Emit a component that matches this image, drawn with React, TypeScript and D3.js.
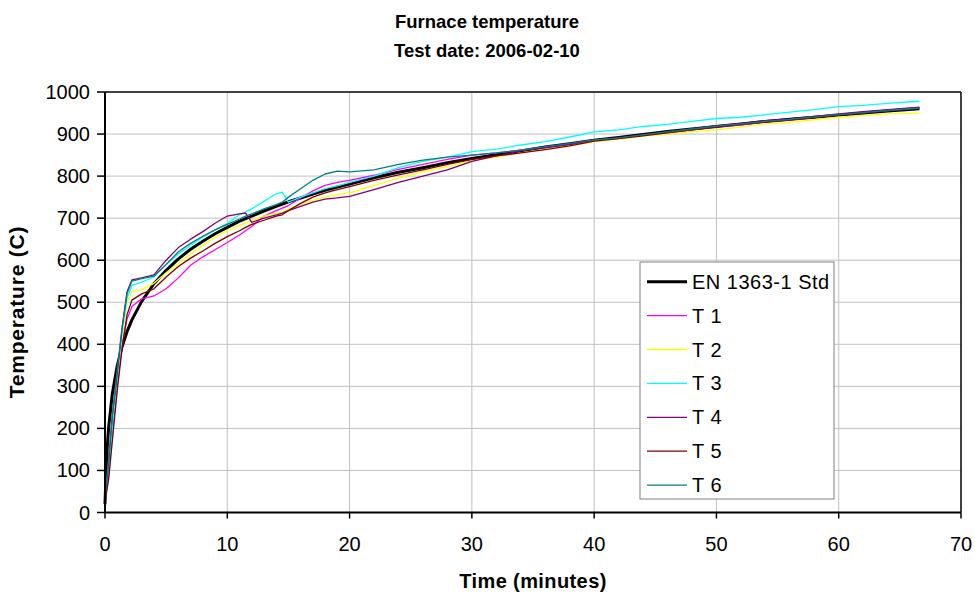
import React from "react";
import * as d3 from "d3";

const stdTimes = [0, 0.1, 0.2, 0.3, 0.6, 1, 1.4, 1.8, 2.2, 3, 4, 5, 6, 7, 8, 9, 10, 11, 12, 13, 14, 15, 16, 17, 18, 19, 20, 22, 24, 26, 28, 30, 32, 34, 36, 38, 40, 42, 44, 46, 48, 50, 52, 54, 56, 58, 60, 62, 64, 66.6];
const stdValues = [20, 108, 163, 203, 283, 349, 395, 430, 458, 502, 544, 576, 603, 626, 645, 663, 678, 693, 705, 717, 728, 739, 748, 757, 766, 774, 781, 796, 809, 820, 832, 842, 851, 860, 869, 877, 885, 892, 899, 906, 912, 918, 924, 930, 935, 940, 945, 950, 955, 960];

const times = [0, 0.3, 0.6, 1, 1.4, 1.8, 2.2, 3, 4, 5, 6, 7, 8, 9, 10, 11, 11.5, 12, 13, 14, 14.5, 15, 16, 17, 18, 19, 20, 22, 24, 26, 28, 30, 32, 34, 36, 38, 40, 42, 44, 46, 48, 50, 52, 54, 56, 58, 60, 62, 64, 66.6];

const t1 = [25, 90, 190, 300, 400, 460, 490, 508, 515, 532, 558, 588, 608, 625, 642, 660, 670, 680, 705, 718, 724, 730, 748, 765, 778, 785, 790, 802, 816, 828, 840, 850, 855, 862, 868, 876, 884, 890, 897, 903, 910, 917, 922, 929, 934, 940, 946, 951, 956, 962];
const t2 = [30, 110, 220, 320, 420, 500, 525, 530, 545, 570, 593, 615, 635, 655, 670, 683, 688, 694, 705, 712, 714, 722, 732, 742, 750, 756, 760, 778, 795, 810, 823, 836, 846, 855, 864, 872, 882, 888, 895, 900, 906, 910, 917, 924, 928, 934, 940, 944, 948, 950];
const t3 = [30, 100, 200, 320, 430, 510, 540, 548, 560, 590, 615, 635, 655, 672, 688, 708, 715, 722, 740, 758, 762, 738, 750, 760, 770, 777, 785, 800, 820, 835, 845, 858, 864, 874, 882, 893, 905, 910, 918, 923, 930, 937, 940, 946, 952, 958, 965, 968, 973, 978];
const t4 = [30, 120, 230, 330, 440, 525, 553, 558, 565, 600, 630, 650, 668, 688, 705, 710, 712, 690, 700, 708, 712, 718, 728, 738, 745, 748, 752, 768, 785, 800, 815, 835, 848, 860, 868, 876, 886, 890, 898, 905, 912, 920, 925, 932, 936, 942, 948, 953, 958, 964];
const t5 = [25, 80, 170, 290, 390, 470, 505, 520, 532, 560, 585, 605, 622, 640, 656, 670, 678, 685, 695, 705, 708, 718, 735, 750, 760, 768, 775, 790, 803, 815, 828, 840, 848, 855, 863, 872, 883, 889, 896, 903, 910, 917, 923, 929, 934, 940, 945, 950, 955, 961];
const t6 = [35, 130, 230, 340, 440, 520, 550, 556, 562, 590, 620, 640, 657, 672, 685, 698, 705, 710, 722, 732, 738, 750, 770, 790, 805, 812, 810, 815, 828, 838, 845, 850, 855, 862, 870, 878, 886, 891, 898, 905, 912, 919, 924, 930, 935, 941, 946, 951, 956, 962];

const seriesNames = ["EN 1363-1 Std", "T 1", "T 2", "T 3", "T 4", "T 5", "T 6"];
const seriesColors = ["#000000", "#FF00FF", "#FFFF00", "#00FFFF", "#800080", "#800000", "#008080"];
const xTicks = [0, 10, 20, 30, 40, 50, 60, 70];
const yTicks = [0, 100, 200, 300, 400, 500, 600, 700, 800, 900, 1000];

const W = 975, H = 601;
const L = 105, R = 961, T = 92, B = 512.5;
const FONT = "'Liberation Sans', Arial, sans-serif";

export default function App() {
  const x = d3.scaleLinear().domain([0, 70]).range([L, R]);
  const y = d3.scaleLinear().domain([0, 1000]).range([B, T]);
  const line = d3.line<[number, number]>().x(d => x(d[0])).y(d => y(d[1]));

  const stdData: [number, number][] = stdTimes.map((t, i) => [t, stdValues[i]]);
  const measured = [t1, t2, t3, t4, t5, t6].map(vals => times.map((t, i) => [t, vals[i]] as [number, number]));

  const legX = 640, legY = 262, legW = 194, legH = 237;
  const rowY = (i: number) => 281.7 + i * 33.9;

  return (
    <svg width={W} height={H} style={{ position: "absolute", left: 0, top: 0, background: "#fff" }} fontFamily={FONT}>
      <rect x={0} y={0} width={W} height={H} fill="#fff" />
      <text x={487} y={28} textAnchor="middle" fontWeight="bold" fontSize={18.5}>Furnace temperature</text>
      <text x={487} y={57} textAnchor="middle" fontWeight="bold" fontSize={18.5}>Test date: 2006-02-10</text>

      {xTicks.slice(1, -1).map(t => (
        <line key={"gx" + t} x1={x(t)} x2={x(t)} y1={T} y2={B} stroke="#c0c0c0" strokeWidth={1} />
      ))}
      {yTicks.slice(1, -1).map(v => (
        <line key={"gy" + v} x1={L} x2={R} y1={y(v)} y2={y(v)} stroke="#c0c0c0" strokeWidth={1} />
      ))}
      <line x1={L} x2={R} y1={T} y2={T} stroke="#000" strokeWidth={1.5} />
      <line x1={R} x2={R} y1={T} y2={B} stroke="#000" strokeWidth={1.5} />

      <path d={line(stdData) || ""} fill="none" stroke={seriesColors[0]} strokeWidth={3} strokeLinejoin="round" />
      {measured.map((d, i) => (
        <path key={"s" + i} d={line(d) || ""} fill="none" stroke={seriesColors[i + 1]} strokeWidth={1.3} strokeLinejoin="round" />
      ))}

      <line x1={L} x2={L} y1={T} y2={B} stroke="#000" strokeWidth={2} />
      <line x1={L} x2={R} y1={B} y2={B} stroke="#000" strokeWidth={2} />
      {yTicks.map(v => (
        <g key={"ty" + v}>
          <line x1={L - 8} x2={L} y1={y(v)} y2={y(v)} stroke="#000" strokeWidth={1.5} />
          <text x={90} y={y(v)} dy="0.35em" textAnchor="end" fontSize={20}>{v}</text>
        </g>
      ))}
      {xTicks.map(t => (
        <g key={"tx" + t}>
          <line x1={x(t)} x2={x(t)} y1={B} y2={B + 6} stroke="#000" strokeWidth={1.5} />
          <text x={x(t)} y={551} textAnchor="middle" fontSize={20}>{t}</text>
        </g>
      ))}

      <text x={533} y={588} textAnchor="middle" fontWeight="bold" fontSize={20} letterSpacing={0.4}>Time (minutes)</text>
      <text transform="translate(24,312) rotate(-90)" textAnchor="middle" fontWeight="bold" fontSize={21} letterSpacing={0.8}>Temperature (C)</text>

      <rect x={legX} y={legY} width={legW} height={legH} fill="#fff" stroke="#808080" strokeWidth={1} />
      {seriesNames.map((n, i) => (
        <g key={"lg" + i}>
          <line x1={647} x2={687} y1={rowY(i)} y2={rowY(i)} stroke={seriesColors[i]} strokeWidth={i === 0 ? 3 : 1.3} />
          <text x={692} y={rowY(i)} dy="0.35em" fontSize={20} letterSpacing={0.5}>{n}</text>
        </g>
      ))}
    </svg>
  );
}
